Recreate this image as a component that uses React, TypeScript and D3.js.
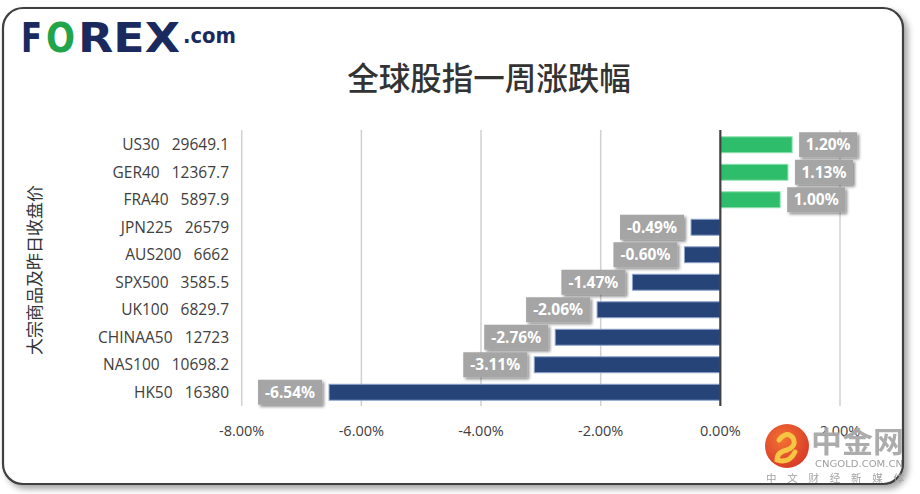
import React, { useEffect } from 'react';
import * as d3 from 'd3';

const categories = ['US30', 'GER40', 'FRA40', 'JPN225', 'AUS200', 'SPX500', 'UK100', 'CHINAA50', 'NAS100', 'HK50'];
const closes = ['29649.1', '12367.7', '5897.9', '26579', '6662', '3585.5', '6829.7', '12723', '10698.2', '16380'];
const changes = [1.2, 1.13, 1.0, -0.49, -0.6, -1.47, -2.06, -2.76, -3.11, -6.54];
const ticks = [-8, -6, -4, -2, 0, 2];

const W = 920;
const H = 494;

export default function App() {
  useEffect(() => {
    document.body.style.margin = '0';
  }, []);

  const x = d3.scaleLinear().domain([-8, 2]).range([241.7, 840]);
  const y = d3.scaleBand<string>().domain(categories).range([131, 406]).paddingInner(0.42).paddingOuter(0.21);
  const top = 130;
  const bottom = 406;
  const fmt = (v: number) => v.toFixed(2) + '%';

  return (
    <svg width={W} height={H} style={{ display: 'block', background: '#fff' }}>
      <defs>
        <filter id="frameShadow" x="-5%" y="-5%" width="110%" height="110%">
          <feDropShadow dx="4" dy="4" stdDeviation="3" floodColor="#000" floodOpacity="0.35" />
        </filter>
        <filter id="boxShadow" x="-20%" y="-30%" width="140%" height="170%">
          <feDropShadow dx="2" dy="2" stdDeviation="1.8" floodColor="#000" floodOpacity="0.45" />
        </filter>
        <radialGradient id="logoGrad" cx="40%" cy="35%" r="70%">
          <stop offset="0%" stopColor="#f26b2a" />
          <stop offset="100%" stopColor="#d62f1c" />
        </radialGradient>
      </defs>

      <rect x={3} y={8} width={900} height={476} rx={20} ry={20} fill="#fff" stroke="#404040" strokeWidth={2.2} filter="url(#frameShadow)" />

      {/* logo */}
      <g fontFamily="'DejaVu Sans', sans-serif" fontWeight="bold">
        <text x={21} y={52} fontSize={40} fill="#1b2a5e" textLength={21} lengthAdjust="spacingAndGlyphs">F</text>
        <text x={46} y={52} fontSize={40} fill="#22a44a" textLength={29} lengthAdjust="spacingAndGlyphs">O</text>
        <text x={78} y={52} fontSize={40} fill="#1b2a5e" textLength={102} lengthAdjust="spacingAndGlyphs">REX</text>
        <text x={183} y={43} fontSize={21} fill="#1b2a5e" textLength={53} lengthAdjust="spacingAndGlyphs">.com</text>
      </g>

      {/* title */}
      <text x={489} y={90} textAnchor="middle" fontSize={31.5} fontWeight={500} fill="#333" fontFamily="'Noto Sans CJK SC', sans-serif">全球股指一周涨跌幅</text>

      {/* y axis title */}
      <text transform="translate(41,270) rotate(-90)" textAnchor="middle" fontSize={17} fill="#333" fontFamily="'Noto Sans CJK SC', sans-serif">大宗商品及昨日收盘价</text>

      {/* grid */}
      {ticks.filter(t => t !== 0).map(t => (
        <line key={t} x1={x(t)} x2={x(t)} y1={top} y2={bottom} stroke="#d0d0d0" strokeWidth={1.5} />
      ))}

      {/* bars */}
      {categories.map((c, i) => {
        const v = changes[i];
        const pos = v >= 0;
        return (
          <rect
            key={c}
            x={Math.min(x(0), x(v))}
            y={y(c)!}
            width={Math.abs(x(v) - x(0))}
            height={y.bandwidth()}
            fill={pos ? '#2ebd6b' : '#264478'}
            stroke={pos ? '#8fe0b0' : '#8ea4cc'}
            strokeWidth={1}
          />
        );
      })}

      {/* zero axis */}
      <line x1={x(0)} x2={x(0)} y1={top} y2={bottom} stroke="#404040" strokeWidth={2.2} />

      {/* category labels */}
      {categories.map((c, i) => (
        <text key={c} x={229} y={y(c)! + y.bandwidth() / 2} dy="0.36em" textAnchor="end" fontSize={15.5} fill="#404040" fontFamily="'Open Sans', sans-serif" xmlSpace="preserve">
          {c + '   ' + closes[i]}
        </text>
      ))}

      {/* value labels */}
      {categories.map((c, i) => {
        const v = changes[i];
        const label = fmt(v);
        const bw = label.length * 6 + 28;
        const bh = 25;
        const cy = y(c)! + y.bandwidth() / 2;
        const bx = v >= 0 ? x(v) + 7 : x(v) - 7 - bw;
        return (
          <g key={c}>
            <rect x={bx} y={cy - bh / 2} width={bw} height={bh} fill="#a5a5a5" filter="url(#boxShadow)" />
            <text x={bx + bw / 2} y={cy} dy="0.36em" textAnchor="middle" fontSize={15.5} fontWeight="bold" fill="#fff" fontFamily="'Noto Sans', sans-serif">{label}</text>
          </g>
        );
      })}

      {/* x tick labels */}
      {ticks.map(t => (
        <text key={t} x={x(t)} y={436} textAnchor="middle" fontSize={14.5} fill="#404040" fontFamily="'Open Sans', sans-serif">{fmt(t)}</text>
      ))}

      {/* watermark */}
      <g opacity={0.95}>
        <circle cx={787} cy={446} r={22} fill="url(#logoGrad)" />
        <path d="M779,440 q8,-10 14,-2 q4,8 -6,12 q-10,2 -10,10 q12,4 18,-8" fill="none" stroke="#f6c23a" strokeWidth={5} strokeLinecap="round" />
        <text x={811} y={453} fontSize={29} fontWeight="bold" fill="#a8a8a8" fontFamily="'Noto Sans CJK SC', sans-serif" textLength={93} lengthAdjust="spacingAndGlyphs">中金网</text>
        <text x={815} y={467} fontSize={8.5} fill="#9a9a9a" fontFamily="'DejaVu Sans', sans-serif" textLength={88} lengthAdjust="spacingAndGlyphs">CNGOLD.COM.CN</text>
        <text x={766} y={482} fontSize={10.5} fill="#a0a0a0" fontFamily="'Noto Sans CJK SC', sans-serif" textLength={138} lengthAdjust="spacing">中文财经新媒体</text>
      </g>
    </svg>
  );
}
